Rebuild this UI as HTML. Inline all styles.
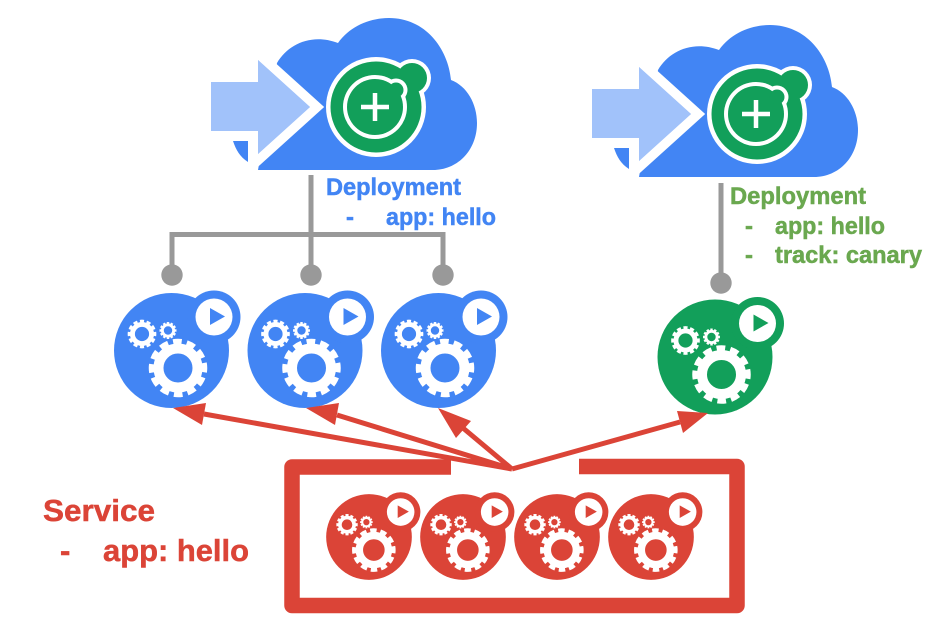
<!DOCTYPE html>
<html><head><meta charset="utf-8"><style>
html,body{margin:0;padding:0;background:#fff;width:945px;height:618px;overflow:hidden}
svg{display:block}
text{font-family:"Liberation Sans",sans-serif;font-weight:bold;stroke-width:.5}
</style></head><body>
<svg width="945" height="618" viewBox="0 0 945 618" xmlns="http://www.w3.org/2000/svg">
<defs>
<g id="gear">
<circle r="19.5" fill="none" stroke="#fff" stroke-width="10"/>
<circle r="26" fill="none" stroke="#fff" stroke-width="6.500" pathLength="24" stroke-dasharray="1.250 .75" stroke-dashoffset=".625"/>
</g>
<g id="pod">
<circle cx="0" cy="0" r="57.500"/>
<circle cx="42.500" cy="-33.500" r="26.500"/>
<circle cx="42.500" cy="-33.500" r="18.500" fill="#fff"/>
<path d="M38.500 -42.500L38.500 -25.500L53.500 -34Z"/>
<use href="#gear" x="6.500" y="17.500"/>
<use href="#gear" transform="translate(-29.500,-16.500) scale(.49)"/>
<use href="#gear" transform="translate(-3.500,-20) scale(.29)"/>
</g>
<g id="cloud">
<path fill="#4285f4" d="M277 63C288 44 312 33 338 43C350 26 370 18 389 18C425 18 448 48 451 80C467 86 477 104 477 123C477 150 458 170 433 170L258 170Z"/>
<path fill="#a1c2fa" stroke="#fff" stroke-width="19" paint-order="stroke" stroke-miterlimit="10" d="M211 82L258 82L258 60L310 107L258 154L258 131L211 131Z"/>
<rect x="190" y="60" width="21" height="105" fill="#fff"/>
<path fill="#a1c2fa" d="M211 82L258 82L258 60L310 107L258 154L258 131L211 131Z"/>
<path fill="#4285f4" d="M233 141L248 141L248 162C240 157 236 150 233 141Z"/>
<circle cx="376" cy="107" r="50" fill="#fff"/>
<circle cx="412" cy="78" r="19" fill="#fff"/>
<circle cx="376" cy="107" r="45.500" fill="#129f5a"/>
<circle cx="412" cy="78" r="15" fill="#129f5a"/>
<circle cx="375" cy="107" r="32" fill="#fff"/>
<circle cx="396" cy="90" r="11.500" fill="#fff"/>
<circle cx="375" cy="107" r="28" fill="#129f5a"/>
<circle cx="396" cy="90" r="7.500" fill="#129f5a"/>
<path d="M361 107H389M375 93V121" stroke="#fff" stroke-width="4.500" fill="none"/>
</g>
</defs>

<use href="#cloud"/>
<use href="#cloud" x="381" y="7"/>

<g fill="none" stroke="#999" stroke-width="5">
<path d="M311 175V275M172 275V234.500H443V275"/>
<path d="M721 183V283"/>
</g>
<g fill="#999">
<circle cx="172" cy="275" r="10.700"/>
<circle cx="311" cy="275" r="10.700"/>
<circle cx="443" cy="275" r="10.700"/>
<circle cx="721" cy="283" r="10.700"/>
</g>

<use href="#pod" x="171.500" y="350.500" fill="#4285f4"/>
<use href="#pod" x="305" y="350.500" fill="#4285f4"/>
<use href="#pod" x="438.500" y="350.500" fill="#4285f4"/>
<use href="#pod" x="715" y="357" fill="#129f5a"/>

<g fill="none" stroke="#db4437" stroke-width="5">
<path d="M512 469L204 414M512 469L337 415M512 469L463 428M512 469L680 422"/>
</g>
<g fill="#db4437">
<path d="M173 408L206 403L202 425Z"/>
<path d="M306 408L339 403L335 425Z"/>
<path d="M438 408L471 421L456 438Z"/>
<path d="M708 413L677 411L683 433Z"/>
</g>

<path d="M451 467H292V605.500H737V466.500H579" fill="none" stroke="#db4437" stroke-width="15.500" stroke-linejoin="round"/>

<use href="#pod" transform="translate(369,537) scale(.745)" fill="#db4437"/>
<use href="#pod" transform="translate(463,537) scale(.745)" fill="#db4437"/>
<use href="#pod" transform="translate(557,537) scale(.745)" fill="#db4437"/>
<use href="#pod" transform="translate(651,537) scale(.745)" fill="#db4437"/>

<g fill="#4285f4" stroke="#4285f4" font-size="24">
<text x="326" y="195" textLength="135" lengthAdjust="spacingAndGlyphs">Deployment</text>
<text x="346" y="225">-</text>
<text x="386" y="225" textLength="110" lengthAdjust="spacingAndGlyphs">app: hello</text>
</g>
<g fill="#6aa84f" stroke="#6aa84f" font-size="24">
<text x="730" y="204" textLength="136" lengthAdjust="spacingAndGlyphs">Deployment</text>
<text x="745" y="234">-</text>
<text x="775" y="234" textLength="110" lengthAdjust="spacingAndGlyphs">app: hello</text>
<text x="745" y="263">-</text>
<text x="775" y="263" textLength="147" lengthAdjust="spacingAndGlyphs">track: canary</text>
</g>
<g fill="#db4437" stroke="#db4437" font-size="31">
<text x="43" y="521" textLength="112" lengthAdjust="spacingAndGlyphs">Service</text>
<text x="60" y="561">-</text>
<text x="103" y="561" textLength="146" lengthAdjust="spacingAndGlyphs">app: hello</text>
</g>
</svg>
</body></html>
